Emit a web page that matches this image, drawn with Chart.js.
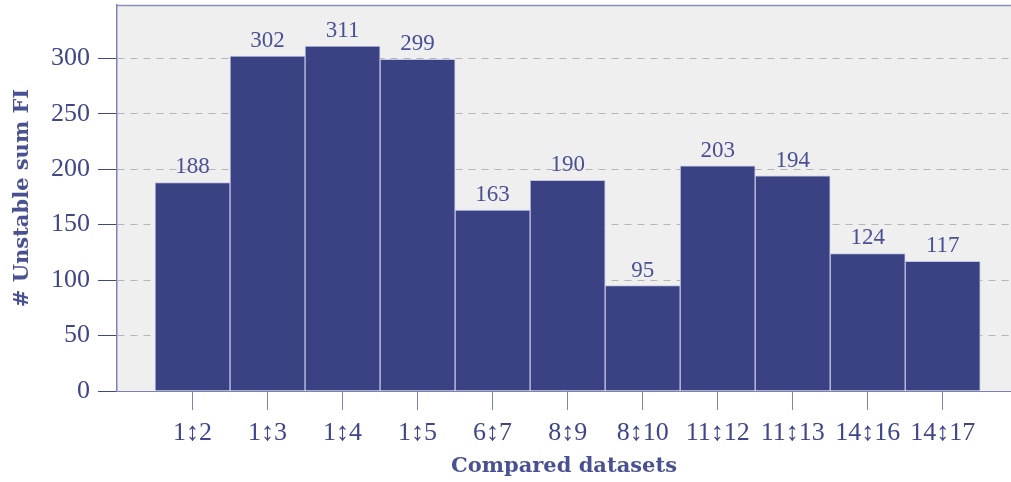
<!DOCTYPE html>
<html>
<head>
<meta charset="utf-8">
<script src="https://cdn.jsdelivr.net/npm/chart.js@4/dist/chart.umd.min.js"></script>
<style>
  body { margin: 0; background: #fff; }
  #wrap { width: 1011px; height: 482px; }
</style>
</head>
<body>
<div id="wrap"><canvas id="c" width="1011" height="482"></canvas></div>
<script>
const pairs = ['1\u21952', '1\u21953', '1\u21954', '1\u21955', '6\u21957', '8\u21959',
  '8\u219510', '11\u219512', '11\u219513', '14\u219516', '14\u219517'];
const unstable = [188, 302, 311, 299, 163, 190, 95, 203, 194, 124, 117];
const yTicks = [0, 50, 100, 150, 200, 250, 300];

const ink = '#3f4689';
const serif = "'Liberation Serif', 'DejaVu Serif', serif";
const boldSerif = "'DejaVu Serif', 'Liberation Serif', serif";

const plotBg = {
  id: 'plotBg',
  beforeDraw(chart) {
    const { ctx, chartArea: a } = chart;
    ctx.save();
    ctx.fillStyle = '#efefef';
    ctx.fillRect(a.left, a.top, a.right - a.left, a.bottom - a.top);
    ctx.restore();
  },
  afterDraw(chart) {
    const { ctx, chartArea: a } = chart;
    ctx.save();
    ctx.strokeStyle = '#8a90bd';
    ctx.lineWidth = 1.5;
    ctx.beginPath();
    ctx.moveTo(a.left, a.top + 0.5);
    ctx.lineTo(a.right, a.top + 0.5);
    ctx.stroke();
    ctx.restore();
  }
};

const barLabels = {
  id: 'barLabels',
  afterDatasetsDraw(chart) {
    const { ctx } = chart;
    const meta = chart.getDatasetMeta(0);
    ctx.save();
    ctx.font = '23px ' + serif;
    ctx.fillStyle = '#4a5193';
    ctx.textAlign = 'center';
    ctx.textBaseline = 'alphabetic';
    meta.data.forEach((bar, i) => {
      ctx.fillText(String(unstable[i]), bar.x, bar.y - 9);
    });
    ctx.restore();
  }
};

new Chart(document.getElementById('c').getContext('2d'), {
  type: 'bar',
  data: {
    datasets: [{
      data: unstable.map((v, i) => ({ x: i, y: v })),
      backgroundColor: '#3b4284',
      borderColor: '#c3c6e3',
      borderWidth: 1,
      barPercentage: 1,
      categoryPercentage: 1
    }]
  },
  options: {
    responsive: false,
    animation: false,
    layout: { padding: { top: 5, right: 0, left: 10, bottom: 0 } },
    plugins: {
      legend: { display: false },
      tooltip: { enabled: false }
    },
    scales: {
      x: {
        type: 'linear',
        offset: false,
        min: -1.007,
        max: 10.91,
        afterBuildTicks(scale) {
          scale.ticks = pairs.map((p, i) => ({ value: i }));
        },
        afterFit(scale) {
          scale.height = 91;
          scale.paddingLeft = 0;
          scale.paddingRight = 0;
        },
        ticks: {
          callback: (v) => pairs[v],
          font: { family: serif, size: 26 },
          color: ink,
          padding: 8,
          maxRotation: 0,
          autoSkip: false
        },
        grid: {
          offset: false,
          drawOnChartArea: false,
          drawTicks: true,
          tickLength: 19,
          tickColor: '#7d83b5'
        },
        border: { display: true, color: '#7d83b5' },
        title: {
          display: true,
          text: 'Compared datasets',
          font: { family: boldSerif, size: 21, weight: 'bold' },
          color: '#4a5193',
          padding: { top: 0, bottom: 3 }
        }
      },
      y: {
        min: 0,
        max: 348,
        afterBuildTicks(scale) {
          scale.ticks = yTicks.map(v => ({ value: v }));
        },
        afterFit(scale) {
          scale.width = 107;
          scale.paddingTop = 0;
          scale.paddingBottom = 0;
        },
        ticks: {
          font: { family: serif, size: 26 },
          color: ink,
          padding: 8
        },
        grid: {
          color: '#b5b5b5',
          tickColor: '#3f4689',
          tickLength: 19,
          lineWidth: 1
        },
        border: { display: true, color: '#7d83b5', width: 1.5, dash: [7, 6] },
        title: {
          display: true,
          text: '# Unstable sum FI',
          font: { family: boldSerif, size: 21, weight: 'bold' },
          color: '#4a5193',
          padding: { top: 0, bottom: 0 }
        }
      }
    }
  },
  plugins: [plotBg, barLabels]
});
</script>
</body>
</html>
